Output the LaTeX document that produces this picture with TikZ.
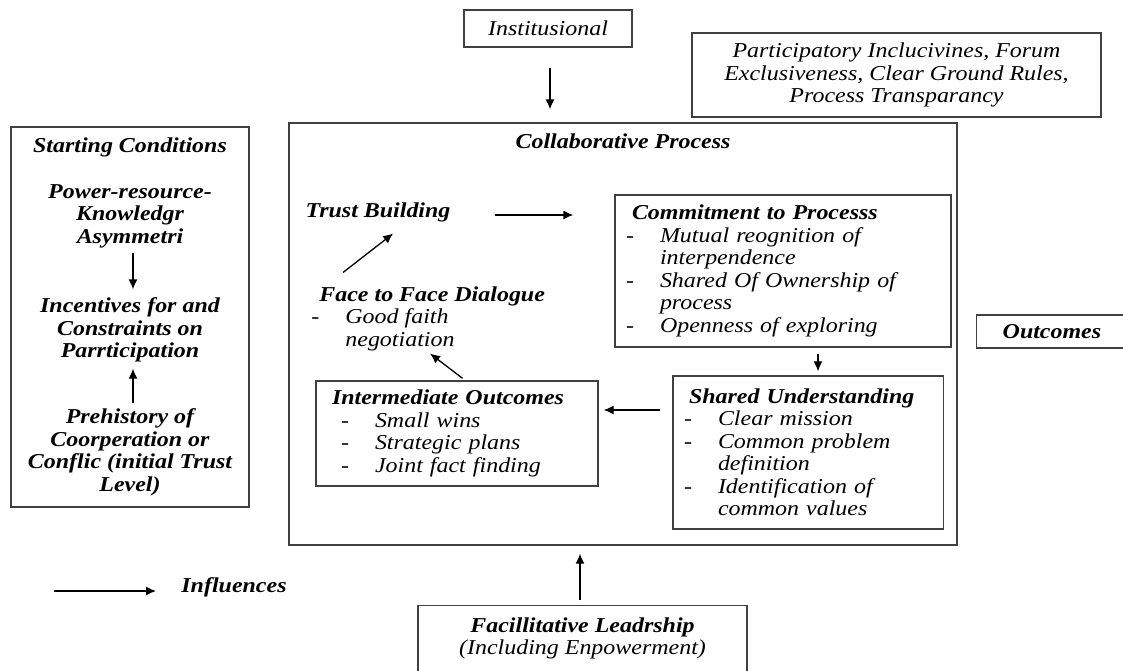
\documentclass[tikz,border=0pt]{standalone}
\usepackage{fontspec}
\setmainfont{Liberation Serif}[FakeStretch=1.13]
\usepackage{tikz}
\usetikzlibrary{arrows.meta}

\newcommand{\figfont}{\fontsize{10.6}{11.25}\selectfont}
\newcommand{\lidash}{\makebox[17pt][l]{\upshape -}}
\newcommand{\liskip}{\hspace*{17pt}}

\begin{document}
\begin{tikzpicture}[
  x=0.5pt, y=-0.5pt,                        % one unit = one pixel of the sketch
  font=\figfont\itshape,
  panel/.style   = {draw=black!75,
                    line width=0.7pt,
                    inner sep=0pt},
  heading/.style = {font=\figfont\bfseries\itshape,
                    inner sep=0pt},
  note/.style    = {font=\figfont\itshape,
                    inner sep=0pt},
  listbox/.style = {panel,
                    align=left},
  arrow/.style   = {-{Latex[length=5pt,width=4.5pt]}, line width=0.65pt}
]
\useasboundingbox (0,0) rectangle (1123,670);

% frames
\node[panel, minimum width=84pt, minimum height=18.5pt] (inst) at (548,28.5) {Institusional};
\node[panel, minimum width=204.5pt, minimum height=42pt, align=center] (rules) at (896.5,75)
  {Participatory Inclucivines, Forum\\Exclusiveness, Clear Ground Rules,\\Process Transparancy};
\node[panel, minimum width=119pt, minimum height=190pt] (start) at (130,317) {};
\node[panel, minimum width=334pt, minimum height=211pt] (collab) at (623,334) {};
\node[panel, anchor=west, align=left, text width=60pt, inner xsep=13.25pt,
      minimum height=16.5pt, font=\figfont\bfseries\itshape] (outcomes) at (975.5,331.5) {Outcomes};
\node[panel, anchor=north, align=center, inner ysep=6pt, minimum width=164.5pt,
      text depth=18pt] (lead) at (582.5,605)
  {{\bfseries Facillitative Leadrship}\\(Including Enpowerment)};

% starting conditions
\node[heading] (starttitle) at (130,147) {Starting Conditions};
\node[heading, align=center] (power)   at (130,216)   {Power-resource-\\Knowledgr\\Asymmetri};
\node[heading, align=center] (incent)  at (130,330)   {Incentives for and\\Constraints on\\Parrticipation};
\node[heading, align=center] (prehist) at (130,452.5) {Prehistory of\\Coorperation or\\Conflic (initial Trust\\Level)};

% collaborative process
\node[heading] (collabtitle) at (623,141) {Collaborative Process};
\node[heading] (trust) at (378,212) {Trust Building};
\node[note, anchor=west, align=left] (dialogue) at (311,318.5)
  {\hspace*{4pt}{\bfseries Face to Face Dialogue}\\\lidash Good faith\\\liskip negotiation};

\node[listbox, minimum height=76pt, text width=157pt, inner xsep=5.5pt] (commit) at (783,271)
  {\hspace*{3pt}{\bfseries Commitment to Processs}\\
   \lidash Mutual reognition of\\\liskip interpendence\\
   \lidash Shared Of Ownership of\\\liskip process\\
   \lidash Openness of exploring};

\node[listbox, minimum height=76.5pt, text width=124.25pt, inner xsep=5.5pt] (shared) at (808.25,452.5)
  {\hspace*{2.5pt}{\bfseries Shared Understanding}\\
   \lidash Clear mission\\
   \lidash Common problem\\\liskip definition\\
   \lidash Identification of\\\liskip common values};

\node[listbox, minimum height=52.5pt, text width=125pt, inner xsep=8pt] (interim) at (457,433.5)
  {{\bfseries Intermediate Outcomes}\\
   \hspace*{4.5pt}\lidash Small wins\\
   \hspace*{4.5pt}\lidash Strategic plans\\
   \hspace*{4.5pt}\lidash Joint fact finding};

% legend
\coordinate (legtail) at (54,591);
\node[heading] (influence) at (234,587) {Influences};

% connectors
\draw[arrow, shorten <=2.5pt, shorten >=4pt] ([xshift=1.5pt]power.south) -- ([xshift=1.5pt]incent.north);
\draw[arrow, shorten <=2.6pt, shorten >=3pt] ([xshift=1.5pt]prehist.north) -- ([xshift=1.5pt]incent.south);

\draw[arrow, shorten <=10pt, shorten >=6.5pt] ([xshift=1pt]inst.south) -- ([xshift=1pt]inst.south |- collab.north);
\draw[arrow, shorten <=2.5pt, shorten >=4pt] ([xshift=-1.25pt]lead.north) -- ([xshift=-1.25pt]lead.north |- collab.south);

\draw[arrow, shorten <=22pt, shorten >=20.5pt] ([yshift=-1.5pt]trust.east) -- ([yshift=-1.5pt]trust.east -| commit.west);
\draw[arrow, shorten <=3pt, shorten >=2pt] ([xshift=17.5pt]commit.south) -- ([xshift=17.5pt]commit.south |- shared.north);
\draw[arrow, shorten <=6.25pt, shorten >=2.5pt] ([yshift=21.25pt]shared.west) -- ([yshift=21.25pt]shared.west -| interim.east);
\draw[arrow] ([xshift=2.75pt,yshift=1pt]interim.north) -- ([xshift=59.5pt,yshift=-1.25pt]dialogue.south west);
\draw[arrow] ([xshift=16pt,yshift=6.75pt]dialogue.north west) -- ([xshift=44pt,yshift=-5.75pt]trust.south west);

\draw[arrow, shorten >=12.5pt] (legtail) -- (legtail -| influence.west);

\end{tikzpicture}
\end{document}
